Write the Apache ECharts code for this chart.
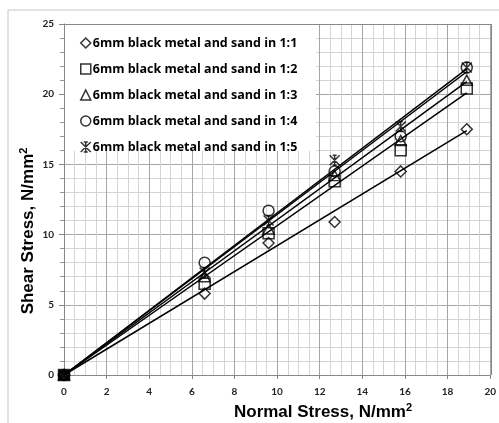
<!DOCTYPE html>
<html><head><meta charset="utf-8">
<script src="https://cdn.jsdelivr.net/npm/echarts@6/dist/echarts.min.js"></script>
<style>html,body{margin:0;padding:0;background:#fff}#c{width:499px;height:423px}</style>
</head><body><div id="c"></div>
<script>
const seriesNames = ['6mm black metal and sand in 1:1','6mm black metal and sand in 1:2','6mm black metal and sand in 1:3','6mm black metal and sand in 1:4','6mm black metal and sand in 1:5'];
const normalStress = [0, 6.6, 9.6, 12.7, 15.8, 18.9];
const shear11 = [0, 5.8, 9.4, 10.9, 14.5, 17.5];
const shear12 = [0, 6.5, 10.1, 13.8, 16.0, 20.4];
const shear13 = [0, 7.0, 10.4, 14.2, 16.7, 21.0];
const shear14 = [0, 8.0, 11.7, 14.5, 17.0, 21.9];
const shear15 = [0, 7.3, 11.0, 15.3, 17.7, 21.9];
// fitted trend lines (through origin), end values read at x = 18.9
const trendStartX = 0, trendEndX = 18.9;
const trendEnd = [17.4, 20.1, 20.9, 21.6, 21.8];
const xTicks = [0,2,4,6,8,10,12,14,16,18,20];
const yTicks = [0,5,10,15,20,25];

const starPath = 'path://M0,0L10,10M10,0L0,10M5,0L5,10M3,0L7,0M3,10L7,10';
const symbols = ['diamond','rect','triangle','circle',starPath];
const sizes = [[11,11],[11,11],[11,10],[11,11],[10,10]];
const allShear = [shear11, shear12, shear13, shear14, shear15];

const chart = echarts.init(document.getElementById('c'), null, {renderer:'canvas'});
const series = [];
allShear.forEach((arr, i) => {
  series.push({
    type:'line', name:'trend'+i, silent:true, symbol:'none', z:3,
    data:[[trendStartX,0],[trendEndX,trendEnd[i]]],
    lineStyle:{color:'#000', width:1.5}
  });
});
allShear.forEach((arr, i) => {
  series.push({
    type:'scatter', name:seriesNames[i], symbol:symbols[i], symbolSize:sizes[i], z:4,
    data: normalStress.map((x,j)=>[x, arr[j]]),
    itemStyle:{color:'rgba(0,0,0,0)', borderColor:'#000', borderWidth:1.5}
  });
});
// black origin marker
series.push({type:'scatter', name:'origin', symbol:'rect', symbolSize:[11,10], z:5,
  data:[[normalStress[0], shear11[0]]], itemStyle:{color:'#000'}});

chart.setOption({
  animation:false,
  textStyle:{fontFamily:'Lato'},
  grid:{left:64, top:24, width:428, height:351, show:false},
  xAxis:{type:'value', min:0, max:20, interval:2,
    axisLine:{show:true, lineStyle:{color:'#888'}},
    axisTick:{show:true, length:4, lineStyle:{color:'#888'}},
    axisLabel:{fontSize:10, fontWeight:'bold', color:'#222', margin:12, fontFamily:'Lato',
      formatter:v=>xTicks.includes(v)?String(v):''},
    splitLine:{show:true, lineStyle:{color:'#a6a6a6', width:1}},
    minorTick:{show:false, splitNumber:4},
    minorSplitLine:{show:true, lineStyle:{color:'#d4d4d4', width:1}}
  },
  yAxis:{type:'value', min:0, max:25, interval:5,
    axisLine:{show:true, lineStyle:{color:'#888'}},
    axisTick:{show:true, length:5, lineStyle:{color:'#888'}},
    axisLabel:{fontSize:10, fontWeight:'bold', color:'#222', margin:10, fontFamily:'Lato',
      formatter:v=>yTicks.includes(v)?String(v):''},
    splitLine:{show:true, lineStyle:{color:'#a6a6a6', width:1}},
    minorTick:{show:true, splitNumber:5, length:4, lineStyle:{color:'#999'}},
    minorSplitLine:{show:true, lineStyle:{color:'#d4d4d4', width:1}}
  },
  legend:{
    orient:'vertical', left:75, top:30, z:10,
    data: seriesNames.map((n,i)=>({name:n, icon:symbols[i]})),
    itemWidth:10, itemHeight:10, itemGap:10,
    itemStyle:{color:'rgba(0,0,0,0)', borderColor:'#000', borderWidth:1.5},
    textStyle:{fontFamily:'Open Sans', fontWeight:'bold', fontSize:12.5, color:'#000', lineHeight:16, padding:[0,0,0,-3]}
  },
  graphic:[
    {type:'rect', z:-1, silent:true, shape:{x:8,y:10,width:600,height:600}, style:{fill:'none', stroke:'#c8c8c8', lineWidth:1}},
    {type:'rect', z:5, silent:true, shape:{x:65,y:25,width:251,height:126}, style:{fill:'#fff'}},
    {type:'line', z:6, silent:true, shape:{x1:64,y1:24.5,x2:492,y2:24.5}, style:{stroke:'#888', lineWidth:1}},
    {type:'line', z:6, silent:true, shape:{x1:491.5,y1:24,x2:491.5,y2:375}, style:{stroke:'#888', lineWidth:1}},
    {type:'text', z:6, silent:true, x:323, y:412, style:{
      text:'{a|Normal Stress, N/mm}{b|2}', align:'center', verticalAlign:'middle',
      rich:{a:{fontFamily:'Liberation Sans', fontWeight:'bold', fontSize:17, fill:'#000'},
            b:{fontFamily:'Liberation Sans', fontWeight:'bold', fontSize:11, fill:'#000', padding:[0,0,8,0]}}}},
    {type:'text', z:6, silent:true, x:28, y:231, rotation:Math.PI/2, style:{
      text:'{a|Shear Stress, N/mm}{b|2}', align:'center', verticalAlign:'middle',
      rich:{a:{fontFamily:'Liberation Sans', fontWeight:'bold', fontSize:17, fill:'#000'},
            b:{fontFamily:'Liberation Sans', fontWeight:'bold', fontSize:11, fill:'#000', padding:[0,0,8,0]}}}}
  ],
  series: series
});
</script></body></html>
